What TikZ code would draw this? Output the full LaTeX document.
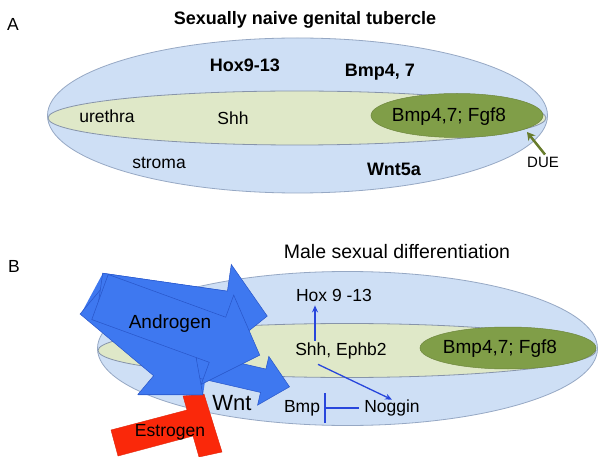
\documentclass[tikz,border=0pt]{standalone}
\usepackage{fontspec}
\setmainfont{Liberation Sans}
\usetikzlibrary{arrows.meta,calc}
\definecolor{outerfill}{RGB}{206,223,245}
\definecolor{ellline}{RGB}{150,168,196}
\definecolor{innerfill}{RGB}{223,232,200}
\definecolor{innerline}{RGB}{135,148,170}
\definecolor{darkgreen}{RGB}{128,158,72}
\definecolor{dueolive}{RGB}{104,124,44}
\definecolor{androblue}{RGB}{62,120,240}
\definecolor{androedge}{RGB}{40,85,200}
\definecolor{sigblue}{RGB}{40,70,220}
\definecolor{estred}{RGB}{250,40,10}
\newcommand\blockarr[7]{%
  \begin{scope}[shift={(#1,#2)},rotate=-#3]
    \filldraw[andro] (0,-#5/2) -- ({#4-#7},-#5/2) -- ({#4-#7},-#6/2) -- (#4,0)
      -- ({#4-#7},#6/2) -- ({#4-#7},#5/2) -- (0,#5/2) -- cycle;
  \end{scope}}
\begin{document}
\begin{tikzpicture}[x=1pt,y=-1pt,
  outerell/.style={draw=ellline, fill=outerfill, line width=0.8pt},
  innerell/.style={draw=innerline, fill=innerfill, line width=0.8pt},
  darkell/.style={fill=darkgreen, draw=darkgreen!85!black, line width=0.5pt},
  lbl/.style={font=\fontsize{17.5}{20}\selectfont, inner sep=1pt},
  blbl/.style={font=\bfseries\fontsize{18}{20}\selectfont, inner sep=1pt},
  biglbl/.style={font=\fontsize{19}{22}\selectfont, inner sep=1pt},
  andro/.style={fill=androblue, draw=androedge, line width=0.5pt},
  sig/.style={draw=sigblue, line width=1.3pt, -{Stealth[length=7pt,width=6pt]}}]
\useasboundingbox (0,0) rectangle (600,457);
\fill[white] (0,0) rectangle (600,457);
% ---------- Panel A ----------
\node[lbl] (labA) at (13,24) {A};
\node[blbl] (titleA) at (305,20) {Sexually naive genital tubercle};
\draw[outerell] (297.5,115.5) ellipse [x radius=250, y radius=77.5];
\draw[innerell] (297,118) ellipse [x radius=249, y radius=27];
\draw[darkell] (457,115.5) ellipse [x radius=86, y radius=22];
\node[blbl] (hoxA) at (245,65) {Hox9-13};
\node[blbl] (bmpA) at (380,72) {Bmp4, 7};
\node[lbl] (urethra) at (107,116) {urethra};
\node[lbl] (shhA) at (233,118) {Shh};
\node[biglbl] (fgfA) at (449,117) {Bmp4,7; Fgf8};
\node[lbl] (stroma) at (159,163) {stroma};
\node[blbl] (wnt5a) at (394,169) {Wnt5a};
\node[font=\fontsize{15}{17}\selectfont, inner sep=1pt] (due) at (543,162) {DUE};
\coordinate (duetip) at (527,132);
\draw[dueolive, line width=2.5pt, -{Stealth[length=8pt,width=9pt]}] ($(due.north)+(2,-1)$) -- (duetip);
% ---------- Panel B ----------
\node[lbl] (labB) at (14,266) {B};
\node[font=\fontsize{19.5}{22}\selectfont, inner sep=1pt] (titleB) at (397,252) {Male sexual differentiation};
\draw[outerell] (347.5,348.5) ellipse [x radius=250, y radius=77];
\draw[innerell] (347,350.5) ellipse [x radius=249, y radius=27];
\draw[darkell] (508,348) ellipse [x radius=88, y radius=21];
\node[biglbl] (fgfB) at (500,349) {Bmp4,7; Fgf8};
\node[lbl] (hoxB) at (334,295) {Hox 9 -13};
\node[lbl] (shhB) at (341,351) {Shh, Ephb2};
\node[lbl] (noggin) at (392,408) {Noggin};
\node[lbl] (bmpB) at (302,408) {Bmp};
\draw[sig] ($(shhB.north)+(-26,-1)$) -- ($(hoxB.south)+(-19,3)$);
\draw[sig] ($(shhB.south)+(-23,4)$) -- ($(noggin.north)+(0,1)$);
\draw[draw=sigblue, line width=1.3pt, -{Bar[width=30pt,line width=1.6pt]}] ($(noggin.west)+(-4,0)$) -- ($(bmpB.east)+(3,0)$);
% Estrogen
\filldraw[fill=estred, draw=estred!90!black, line width=0.4pt]
  (183,396) -- (204,394) -- (222,452) -- (199,457) -- (193,436)
  -- (118,456) -- (111,430) -- (187,410) -- cycle;
% Androgen block arrows
\fill[androblue] (82,312) -- (103,273) -- (228,291) -- (249,330) -- (207,367)
  -- (203,395) -- (138,395) -- (160,378) -- cycle;
\blockarr{195}{365}{13}{97}{24}{50}{27}
\blockarr{91}{301}{40}{146}{34}{83}{50}
\blockarr{100}{292}{8.2}{169}{38}{92}{43}
\blockarr{100}{297}{20}{170}{48}{95}{45}
\node[font=\fontsize{19}{22}\selectfont, inner sep=1pt] (androgen) at (170,324) {Androgen};
\node[font=\fontsize{22}{24}\selectfont, inner sep=1pt] (wnt) at (232,403) {Wnt};
\node[lbl] (estrogen) at (170,432) {Estrogen};
\end{tikzpicture}
\end{document}
